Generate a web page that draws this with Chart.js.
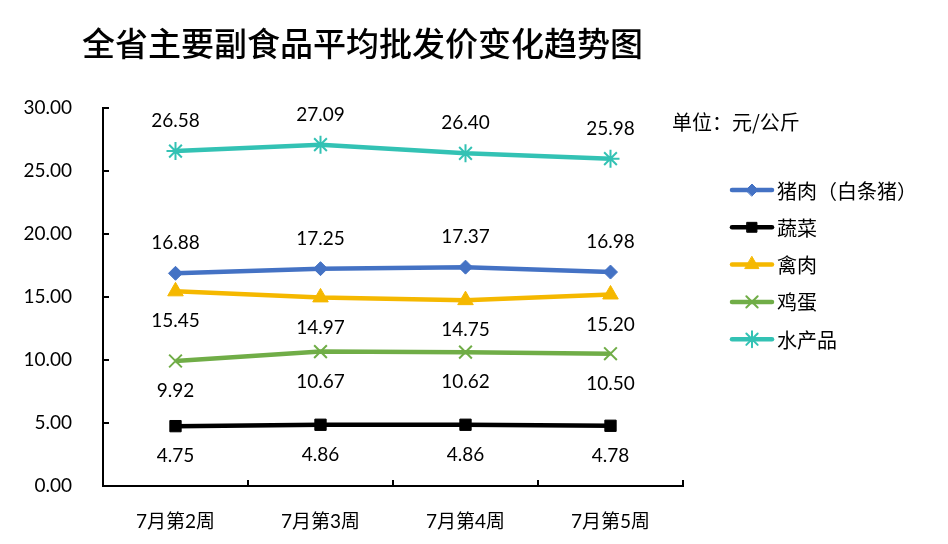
<!DOCTYPE html>
<html>
<head>
<meta charset="utf-8">
<script src="https://cdn.jsdelivr.net/npm/chart.js@4"></script>
<style>
  html, body { margin: 0; padding: 0; background: #fff; }
  #wrap { width: 948px; height: 544px; position: relative; }
</style>
</head>
<body>
<div id="wrap"><canvas id="myChart" width="948" height="544"></canvas></div>
<script>
// Data
const weeks = ['7月第2周', '7月第3周', '7月第4周', '7月第5周'];
const seriesNames = ['猪肉（白条猪）', '蔬菜', '禽肉', '鸡蛋', '水产品'];
const pork = [16.88, 17.25, 17.37, 16.98];
const vegetables = [4.75, 4.86, 4.86, 4.78];
const poultry = [15.45, 14.97, 14.75, 15.20];
const eggs = [9.92, 10.67, 10.62, 10.50];
const aquatic = [26.58, 27.09, 26.40, 25.98];
const yTicks = [0, 5, 10, 15, 20, 25, 30];

const titleText = '全省主要副食品平均批发价变化趋势图';
const unitText = '单位：元/公斤';
const numFont = "Lato, 'Noto Sans CJK SC', sans-serif";
const cjkFont = "'Noto Sans CJK SC', sans-serif";

// label above (-1) or below (+1) the point
const labelSide = [-1, 1, 1, 1, -1];

const ctx = document.getElementById('myChart');

// Draws title, unit, inward ticks, data labels and the line+marker legend
const extras = {
  id: 'extras',
  afterDraw(chart) {
    const c = chart.ctx;
    const area = chart.chartArea;
    const xs = chart.scales.x;
    const ys = chart.scales.y;
    c.save();

    // inward tick marks
    c.strokeStyle = '#000';
    c.lineWidth = 2;
    yTicks.forEach(v => {
      const y = ys.getPixelForValue(v);
      c.beginPath(); c.moveTo(area.left, y); c.lineTo(area.left + 6, y); c.stroke();
    });
    for (let i = 1; i < weeks.length; i++) {
      const x = (xs.getPixelForValue(i - 1) + xs.getPixelForValue(i)) / 2;
      c.beginPath(); c.moveTo(x, area.bottom); c.lineTo(x, area.bottom - 6); c.stroke();
    }
    c.beginPath(); c.moveTo(area.right, area.bottom); c.lineTo(area.right, area.bottom - 6); c.stroke();

    // title + unit
    c.fillStyle = '#000';
    c.textBaseline = 'middle';
    c.textAlign = 'left';
    c.font = "500 33px 'Noto Sans CJK SC', sans-serif";
    c.fillText(titleText, 82, 43);
    c.font = '20px ' + cjkFont;
    c.fillText(unitText, 672, 122);

    // data labels
    c.textAlign = 'center';
    c.font = '19px ' + numFont;
    chart.data.datasets.forEach((ds, i) => {
      const meta = chart.getDatasetMeta(i);
      meta.data.forEach((pt, j) => {
        c.fillText(ds.data[j].toFixed(2), pt.x, pt.y + labelSide[i] * 30);
      });
    });

    // legend
    c.textAlign = 'left';
    c.font = '20px ' + cjkFont;
    chart.data.datasets.forEach((ds, i) => {
      const y = 190 + i * 37.3;
      c.strokeStyle = ds.borderColor;
      c.lineWidth = 4.5;
      c.lineCap = 'round';
      c.beginPath(); c.moveTo(732, y); c.lineTo(772, y); c.stroke();
      c.fillStyle = ds.pointBackgroundColor;
      c.strokeStyle = ds.pointBorderColor;
      c.lineWidth = ds.pointBorderWidth;
      Chart.helpers.drawPoint(c, {pointStyle: ds.pointStyle, radius: ds.pointRadius - 1, rotation: ds.pointRotation || 0, borderWidth: ds.pointBorderWidth}, 752, y);
      c.fillStyle = '#000';
      c.fillText(ds.label, 777, y + 1);
    });
    c.restore();
  }
};

function line(label, data, color, style, radius, extra) {
  return Object.assign({
    label: label,
    data: data,
    borderColor: color,
    backgroundColor: color,
    borderWidth: 4.5,
    pointStyle: style,
    pointRadius: radius,
    pointHoverRadius: radius,
    pointBackgroundColor: color,
    pointBorderColor: color,
    pointBorderWidth: 1,
    tension: 0
  }, extra || {});
}

const myChart = new Chart(ctx, {
  type: 'line',
  data: {
    labels: weeks,
    datasets: [
      line(seriesNames[0], pork, '#4472C4', 'rectRot', 7),
      line(seriesNames[1], vegetables, '#000000', 'rect', 8),
      line(seriesNames[2], poultry, '#F5B800', 'triangle', 9),
      line(seriesNames[3], eggs, '#70AD47', 'crossRot', 9, {pointBorderWidth: 2}),
      line(seriesNames[4], aquatic, '#33C2B4', 'star', 9, {pointBorderWidth: 2})
    ]
  },
  options: {
    responsive: false,
    animation: false,
    layout: { padding: { left: 0, right: 265, top: 108, bottom: 0 } },
    plugins: {
      legend: { display: false },
      title: { display: false },
      tooltip: { enabled: false }
    },
    scales: {
      x: {
        offset: true,
        grid: { display: false },
        border: { display: true, color: '#000', width: 2 },
        ticks: { color: '#000', padding: 16, font: { family: numFont, size: 19 } },
        afterFit(scale) { scale.height = 58; }
      },
      y: {
        min: 0,
        max: 30,
        grid: { display: false },
        border: { display: true, color: '#000', width: 2 },
        afterBuildTicks(scale) { scale.ticks = yTicks.map(v => ({ value: v })); },
        ticks: {
          color: '#000',
          padding: 23,
          font: { family: numFont, size: 19 },
          callback: v => Number(v).toFixed(2)
        },
        afterFit(scale) { scale.width = 103; }
      }
    }
  },
  plugins: [extras]
});
</script>
</body>
</html>
